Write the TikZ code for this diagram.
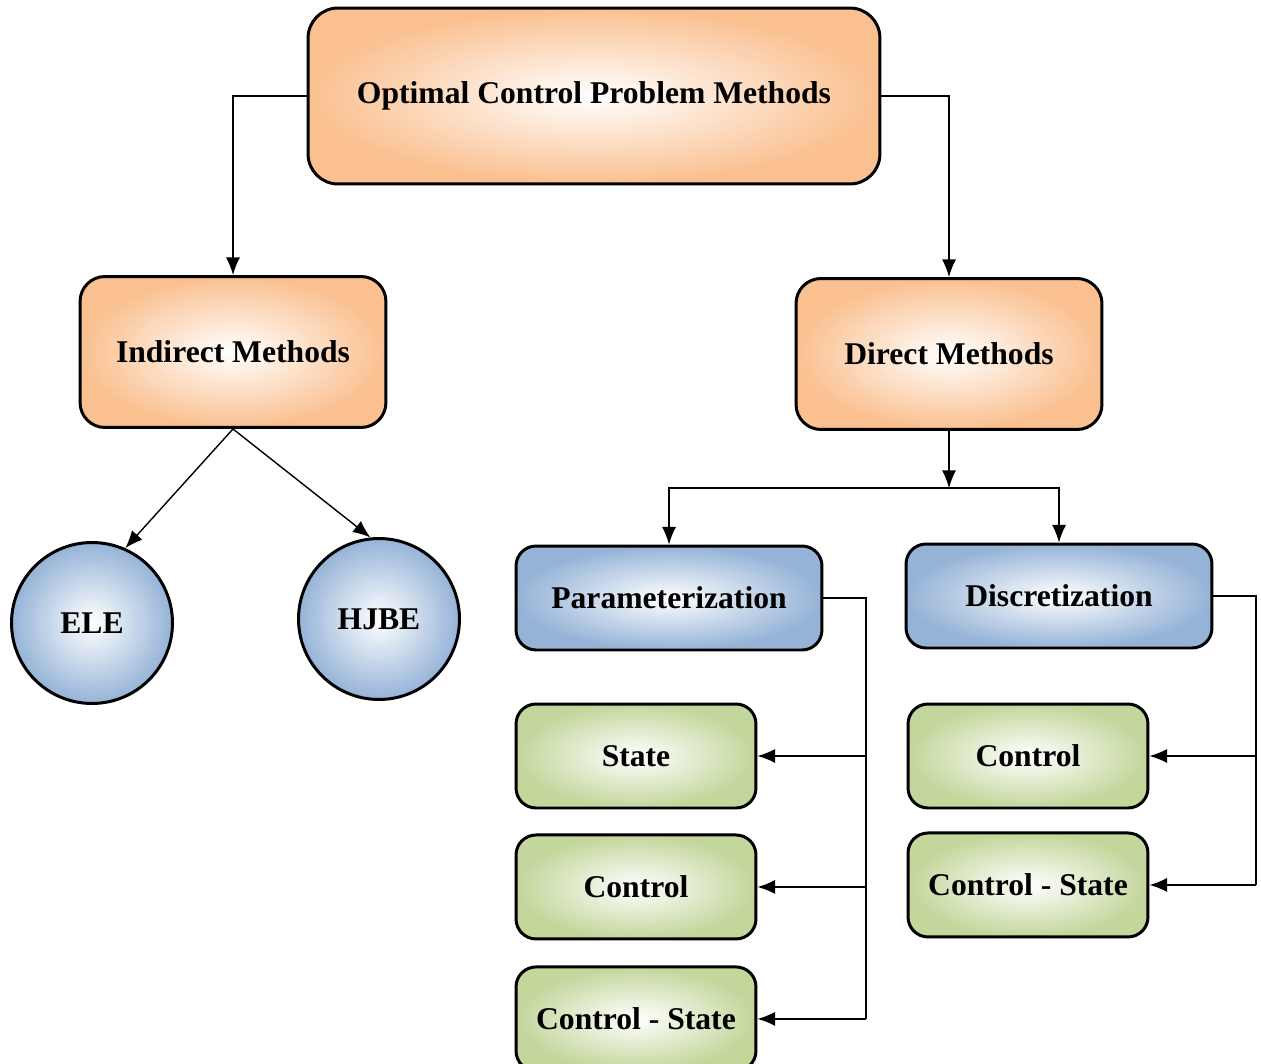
\documentclass[tikz,border=0pt]{standalone}
\usepackage{fontspec}
\setmainfont{Liberation Serif}
\usepackage{xcolor}
\usetikzlibrary{shapes,arrows.meta,positioning,calc}

\definecolor{boxorange}{HTML}{FAC090}
\definecolor{boxblue}{HTML}{95B3D7}
\definecolor{boxgreen}{HTML}{C3D69B}

\begin{document}
\begin{tikzpicture}[x=0.02cm, y=-0.02cm, node distance=0.5cm,
    block/.style={rectangle, draw, line width=1.7pt, shading=radial, inner color=white, text centered, font=\fontsize{18}{21}\selectfont\bfseries},
    topblock/.style={block, outer color=boxorange, rounded corners=0.6cm, minimum width=11.44cm, minimum height=3.52cm},
    method/.style={block, outer color=boxorange, rounded corners=0.5cm, minimum width=6.12cm, minimum height=3.02cm},
    family/.style={block, outer color=boxblue, rounded corners=0.4cm, minimum width=6.12cm, minimum height=2.08cm},
    leaf/.style={block, outer color=boxgreen, rounded corners=0.4cm, minimum width=4.8cm, minimum height=2.08cm},
    eqn/.style={circle, draw, line width=1.7pt, shading=radial, inner color=white, outer color=boxblue, minimum size=3.22cm, font=\fontsize{18}{21}\selectfont\bfseries},
    arrow/.style={-{Latex[length=10pt,width=8pt]}, line width=0.8pt},
    line/.style={line width=0.8pt}]

    \useasboundingbox (0,0) rectangle (1261,1064);

    \node[topblock] (ocp) at (594,96) {Optimal Control Problem Methods};
    \node[method] (indirect) at (233,352) {Indirect Methods};
    \node[method] (direct) at (949,354) {Direct Methods};

    \node[eqn] (ele) at (92,623) {ELE};
    \node[eqn] (hjbe) at (379,619) {HJBE};

    \node[family] (param) at (669,598) {Parameterization};
    \node[family] (disc) at (1059,596) {Discretization};

    \node[leaf] (state) at (636,756) {State};
    \node[leaf, below=0.48cm of state] (ctrlA) {Control};
    \node[leaf, below=0.5cm of ctrlA] (ctrlstA) {Control - State};
    \node[leaf] (ctrlB) at (1028,756) {Control};
    \node[leaf, below=0.44cm of ctrlB] (ctrlstB) {Control - State};

    \coordinate (split) at (949,488);
    \coordinate (pbus) at (866,1014);
    \coordinate (dbus) at (1256,880);

    \draw[arrow] (ocp.west) -| (indirect.north);
    \draw[arrow] (ocp.east) -| (direct.north);

    \draw[arrow] (indirect.south) -- (ele.66);
    \draw[arrow] (indirect.south) -- (hjbe.96);

    \draw[arrow] (direct.south) -- (split);
    \draw[arrow] (split) -| (param.north);
    \draw[arrow] (split) -| (disc.north);

    \draw[line] (param.east) -| (pbus |- ctrlstA.east);
    \draw[arrow] (pbus |- state.east) -- (state.east);
    \draw[arrow] (pbus |- ctrlA.east) -- (ctrlA.east);
    \draw[arrow] (pbus |- ctrlstA.east) -- (ctrlstA.east);

    \draw[line] (disc.east) -| (dbus |- ctrlstB.east);
    \draw[arrow] (dbus |- ctrlB.east) -- (ctrlB.east);
    \draw[arrow] (dbus |- ctrlstB.east) -- (ctrlstB.east);
\end{tikzpicture}
\end{document}
